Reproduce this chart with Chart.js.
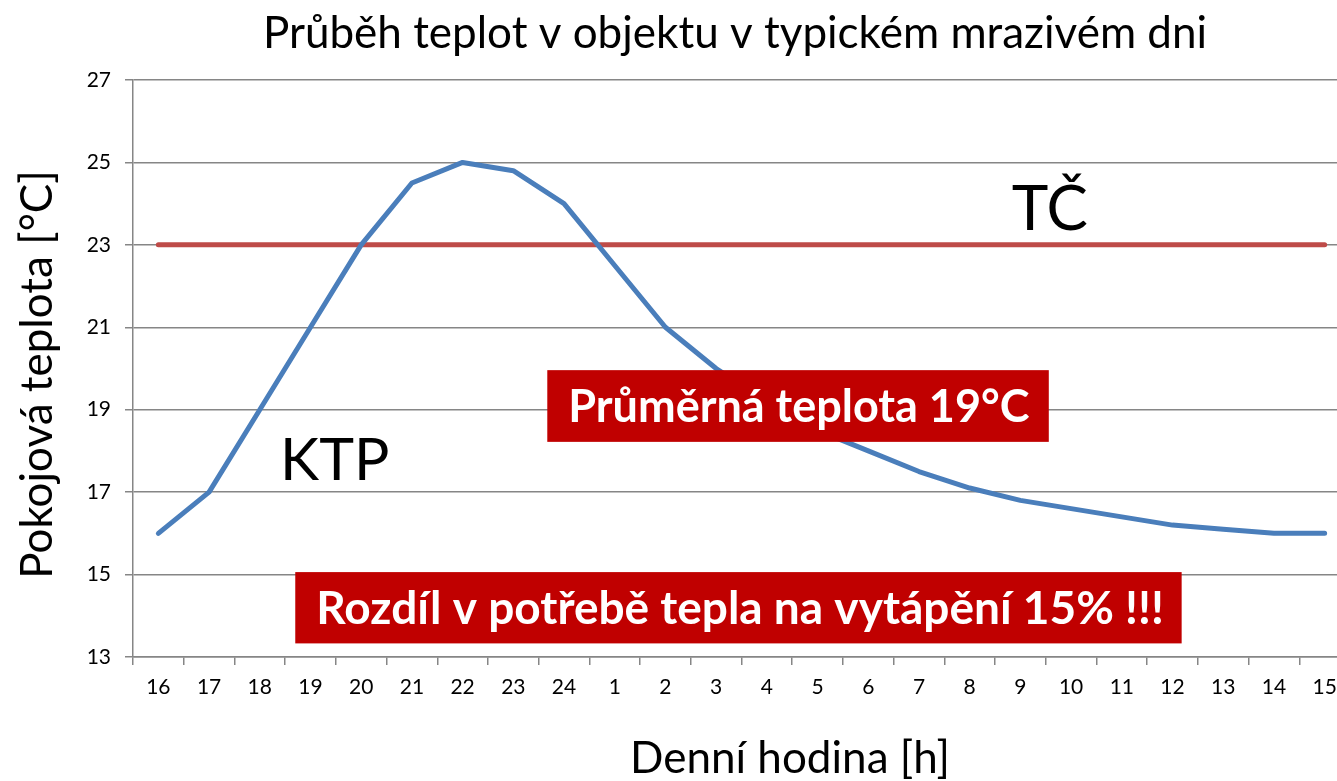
<!DOCTYPE html>
<html>
<head>
<meta charset="utf-8">
<title>Průběh teplot</title>
<script src="https://cdn.jsdelivr.net/npm/chart.js@4.4.0/dist/chart.umd.min.js"></script>
<style>
    html, body { margin: 0; padding: 0; background: #fff; overflow: hidden; }
    canvas { display: block; }
</style>
</head>
<body>
<canvas id="tempChart" width="1470" height="781"></canvas>
<script>
// hodiny od 16:00 do 15:00 dalšího dne
const hours = ['16', '17', '18', '19', '20', '21', '22', '23', '24', '1', '2', '3',
               '4', '5', '6', '7', '8', '9', '10', '11', '12', '13', '14', '15'];

// KTP - kotel na tuhá paliva
const ktpTemps = [16.0, 17.0, 19.0, 21.0, 23.0, 24.5, 25.0, 24.8, 24.0, 22.5, 21.0, 20.0,
                  19.2, 18.5, 18.0, 17.5, 17.1, 16.8, 16.6, 16.4, 16.2, 16.1, 16.0, 16.0];

// TČ - tepelné čerpadlo drží stálou teplotu
const tcTemps = hours.map(() => 23);

const yMin = 13;
const yMax = 27;
const yStep = 2;

const FONT = 'Lato, "Open Sans", sans-serif';

// popisky v grafu, poloha v jednotkách os (index hodiny, °C)
const notes = [
    { text: 'Průměrná teplota 19°C', size: 45, x0: 7.67, x1: 17.56, y0: 19.96, y1: 18.22 },
    { text: 'Rozdíl v potřebě tepla na vytápění 15% !!!', size: 46, x0: 2.70, x1: 20.18, y0: 15.06, y1: 13.33 }
];
const seriesLabels = [
    { text: 'TČ', size: 62, x: 16.83, y: 23.36 },
    { text: 'KTP', size: 59, x: 2.40, y: 17.29 }
];

const textPlugin = {
    id: 'chartTexts',
    afterDatasetsDraw(chart) {
        const ctx = chart.ctx;
        const xs = chart.scales.x;
        const ys = chart.scales.y;
        ctx.save();

        notes.forEach(n => {
            const left = xs.getPixelForValue(n.x0);
            const right = xs.getPixelForValue(n.x1);
            const top = ys.getPixelForValue(n.y0);
            const bottom = ys.getPixelForValue(n.y1);
            ctx.fillStyle = '#c00000';
            ctx.fillRect(left, top, right - left, bottom - top);
            ctx.fillStyle = '#ffffff';
            ctx.font = 'bold ' + n.size + 'px ' + FONT;
            ctx.textAlign = 'left';
            ctx.textBaseline = 'middle';
            ctx.fillText(n.text, left + 21, (top + bottom) / 2 + 1);
        });

        seriesLabels.forEach(l => {
            ctx.fillStyle = '#000000';
            ctx.font = l.size + 'px ' + FONT;
            ctx.textAlign = 'left';
            ctx.textBaseline = 'alphabetic';
            ctx.fillText(l.text, xs.getPixelForValue(l.x), ys.getPixelForValue(l.y));
        });

        // nadpis a popisy os
        ctx.fillStyle = '#000000';
        ctx.font = '44px ' + FONT;
        ctx.textAlign = 'center';
        ctx.textBaseline = 'middle';
        ctx.fillText('Průběh teplot v objektu v typickém mrazivém dni', 735, 34);
        ctx.fillText('Denní hodina [h]', 790, 759);

        ctx.translate(38, (chart.chartArea.top + chart.chartArea.bottom) / 2 + 6);
        ctx.rotate(-Math.PI / 2);
        ctx.fillText('Pokojová teplota [°C]', 0, 0);
        ctx.restore();
    }
};

const canvas = document.getElementById('tempChart');
const chart = new Chart(canvas, {
    type: 'line',
    data: {
        labels: hours,
        datasets: [{
            label: 'KTP',
            data: ktpTemps,
            borderColor: '#4a7ebb',
            borderWidth: 5,
            borderCapStyle: 'round',
            borderJoinStyle: 'round',
            pointRadius: 0,
            tension: 0
        }, {
            label: 'TČ',
            data: tcTemps,
            borderColor: '#be4b48',
            borderWidth: 5,
            borderCapStyle: 'round',
            pointRadius: 0,
            tension: 0
        }]
    },
    options: {
        responsive: false,
        animation: false,
        layout: {
            padding: { top: 80, left: 0, right: 120, bottom: 0 }
        },
        plugins: {
            legend: { display: false },
            tooltip: { enabled: false }
        },
        scales: {
            x: {
                offset: true,
                grid: {
                    offset: true,
                    drawOnChartArea: false,
                    tickLength: 8,
                    color: '#868686',
                    lineWidth: 1.5
                },
                border: { color: '#868686', width: 1.5 },
                ticks: {
                    color: '#000',
                    font: { family: FONT, size: 21 },
                    padding: 10,
                    maxRotation: 0,
                    autoSkip: false
                },
                afterFit(scale) { scale.height = 124; }
            },
            y: {
                min: yMin,
                max: yMax,
                grid: {
                    tickLength: 8,
                    color: '#868686',
                    lineWidth: 1.5
                },
                border: { color: '#868686', width: 1.5 },
                ticks: {
                    stepSize: yStep,
                    color: '#000',
                    font: { family: FONT, size: 21 },
                    padding: 14
                },
                afterFit(scale) { scale.width = 133; }
            }
        }
    },
    plugins: [textPlugin]
});
</script>
</body>
</html>
